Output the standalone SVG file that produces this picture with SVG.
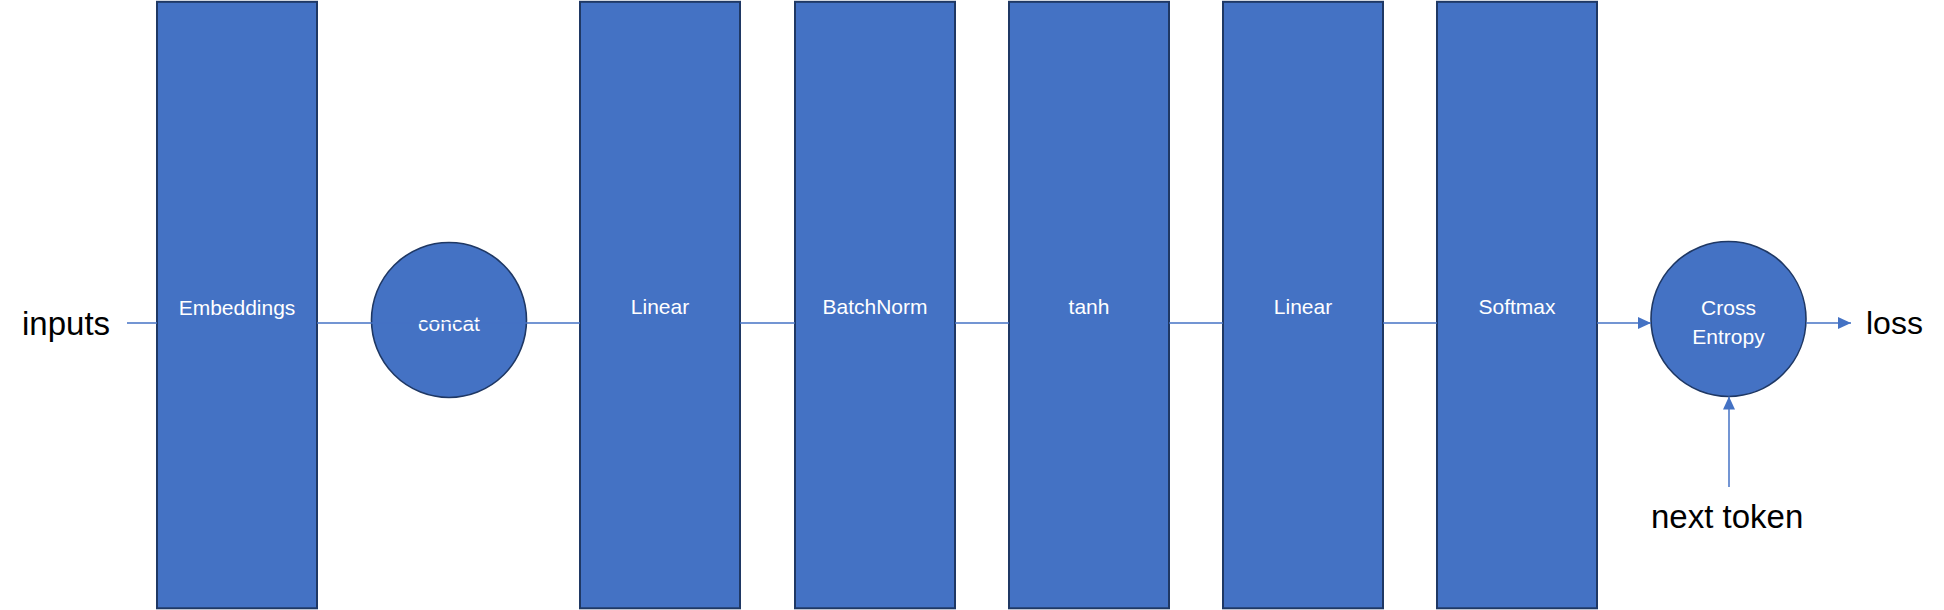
<svg xmlns="http://www.w3.org/2000/svg" width="1944" height="610" viewBox="0 0 1944 610">
<style>
.box{fill:#4472C4;stroke:#1F3864;stroke-width:2}
.circ{fill:#4472C4;stroke:#1F3864;stroke-width:1.6}
.lbl{font-family:"Liberation Sans",Arial,sans-serif;font-size:21px;fill:#FFFFFF;text-anchor:middle}
.ext{font-family:"Liberation Sans",Arial,sans-serif;font-size:33px;fill:#000000}
.conn{stroke:#4472C4;stroke-width:1.5;fill:none}
</style>
<defs>
<marker id="arr" viewBox="0 0 13 12" refX="13" refY="6" markerWidth="13" markerHeight="12" markerUnits="userSpaceOnUse" orient="auto">
<path d="M0,0 L13,6 L0,12 Z" fill="#4472C4"/>
</marker>
</defs>
<rect width="1944" height="610" fill="#FFFFFF"/>
<g id="label-inputs"><text class="ext" x="22" y="335">inputs</text></g>
<g id="node-embeddings"><rect class="box" x="157" y="1.8" width="160" height="606.5"/><text class="lbl" x="237" y="315">Embeddings</text></g>
<g id="node-concat"><circle class="circ" cx="449" cy="320" r="77.5"/><text class="lbl" x="449" y="331">concat</text></g>
<g id="node-linear1"><rect class="box" x="580" y="1.8" width="160" height="606.5"/><text class="lbl" x="660" y="314">Linear</text></g>
<g id="node-batchnorm"><rect class="box" x="795" y="1.8" width="160" height="606.5"/><text class="lbl" x="875" y="314">BatchNorm</text></g>
<g id="node-tanh"><rect class="box" x="1009" y="1.8" width="160" height="606.5"/><text class="lbl" x="1089" y="314">tanh</text></g>
<g id="node-linear2"><rect class="box" x="1223" y="1.8" width="160" height="606.5"/><text class="lbl" x="1303" y="314">Linear</text></g>
<g id="node-softmax"><rect class="box" x="1437" y="1.8" width="160" height="606.5"/><text class="lbl" x="1517" y="314">Softmax</text></g>
<g id="node-crossentropy"><circle class="circ" cx="1728.5" cy="319" r="77.5"/><text class="lbl" x="1728.5" y="315">Cross</text><text class="lbl" x="1728.5" y="344">Entropy</text></g>
<g id="label-loss"><text class="ext" x="1866" y="334" style="font-size:32px">loss</text></g>
<g id="label-nexttoken"><text class="ext" x="1651" y="528">next token</text></g>
<g id="connectors">
<line class="conn" x1="127" y1="323" x2="157" y2="323"/>
<line class="conn" x1="317" y1="323" x2="580" y2="323"/>
<line class="conn" x1="740" y1="323" x2="795" y2="323"/>
<line class="conn" x1="955" y1="323" x2="1009" y2="323"/>
<line class="conn" x1="1169" y1="323" x2="1223" y2="323"/>
<line class="conn" x1="1383" y1="323" x2="1437" y2="323"/>
<line class="conn" x1="1597" y1="323" x2="1651" y2="323" marker-end="url(#arr)"/>
<line class="conn" x1="1806" y1="323" x2="1851" y2="323" marker-end="url(#arr)"/>
<line class="conn" x1="1729" y1="487" x2="1729" y2="396.5" marker-end="url(#arr)"/>
</g>
</svg>
